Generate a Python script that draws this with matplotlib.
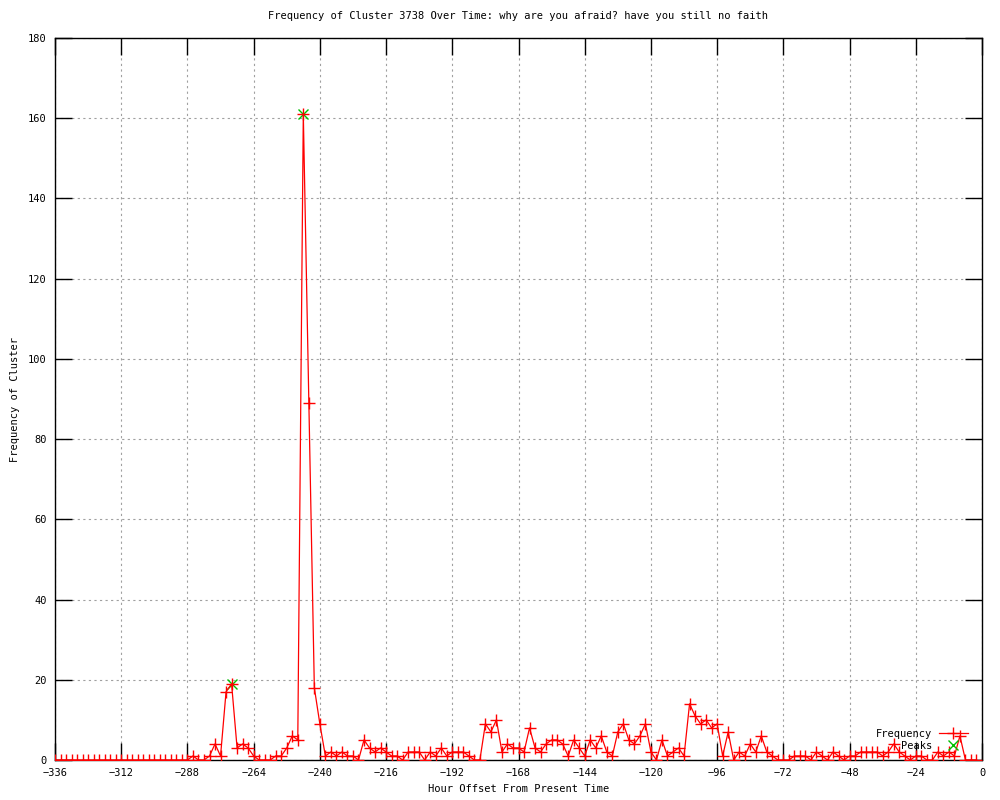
import matplotlib
matplotlib.use("Agg")
import matplotlib.pyplot as plt

# ---- data: cluster frequency, one value per 2-hour bin ----
hour_offsets = list(range(-336, 0, 2))
frequency = (
    [0] * 24
    + [0, 1, 0, 0, 1, 4, 1, 17, 19, 3, 4, 3, 1, 0, 0, 0, 1, 1, 3, 6, 5]
    + [161, 89, 18, 9, 1, 2, 1, 2, 1, 1, 0, 5, 3, 2, 3, 2, 1, 1, 0]
    + [2, 2, 2, 0, 2, 1, 3, 1, 2, 2, 2, 1, 0, 0, 9, 7, 10, 2, 4, 3]
    + [3, 2, 8, 3, 2, 4, 5, 5, 4, 1, 5, 3, 1, 5, 3, 6, 2, 1, 7, 9]
    + [5, 4, 6, 9, 2, 0, 5, 1, 2, 3, 1, 14, 11, 9, 10, 8, 9, 1, 7, 0]
    + [2, 1, 4, 2, 6, 2, 1, 0, 0, 0, 1, 1, 1, 0, 2, 1, 0, 2, 1, 0]
    + [1, 1, 2, 2, 2, 2, 1, 2, 4, 2, 1, 0, 1, 1, 0, 0, 2, 1, 2, 1]
    + [6, 0, 0, 0]
)
peak_hours = [-272, -246]
peak_values = [19, 161]

x_ticks = list(range(-336, 1, 24))
y_ticks = list(range(0, 181, 20))

title = "Frequency of Cluster 3738 Over Time: why are you afraid? have you still no faith"

# ---- figure ----
plt.rcParams["font.family"] = ["DejaVu Sans Mono"]
plt.rcParams["font.size"] = 7.5

fig = plt.figure(figsize=(10, 8), dpi=100)
ax = fig.add_axes([0.055, 0.05, 0.927, 0.9025])

ax.plot(hour_offsets, frequency, color="#ff0000", linewidth=0.9,
        marker="+", markersize=8, markeredgewidth=1, label="Frequency", zorder=3)
ax.plot(peak_hours, peak_values, linestyle="none", color="#00c000",
        marker="x", markersize=7, markeredgewidth=1, label="Peaks", zorder=2)

ax.set_xlim(-336, 0)
ax.set_ylim(0, 180)
ax.set_xticks(x_ticks)
ax.set_yticks(y_ticks)

ax.tick_params(direction="in", length=12, width=1, top=True, right=True,
               labelsize=7.5, pad=6)
ax.grid(True, color="#a0a0a0", linestyle=(0, (2, 3)), linewidth=0.8)
for s in ax.spines.values():
    s.set_linewidth(1)
    s.set_color("black")

ax.set_title(title, fontsize=7.5, pad=14)
ax.set_xlabel("Hour Offset From Present Time", labelpad=4)
ax.set_ylabel("Frequency of Cluster", labelpad=6)

ax.legend(loc="lower right", bbox_to_anchor=(0.995, 0.0), markerfirst=False,
          frameon=False, handlelength=2.8, handletextpad=0.6,
          labelspacing=0.2, fontsize=7.5)

fig.savefig("out.png", dpi=100)
